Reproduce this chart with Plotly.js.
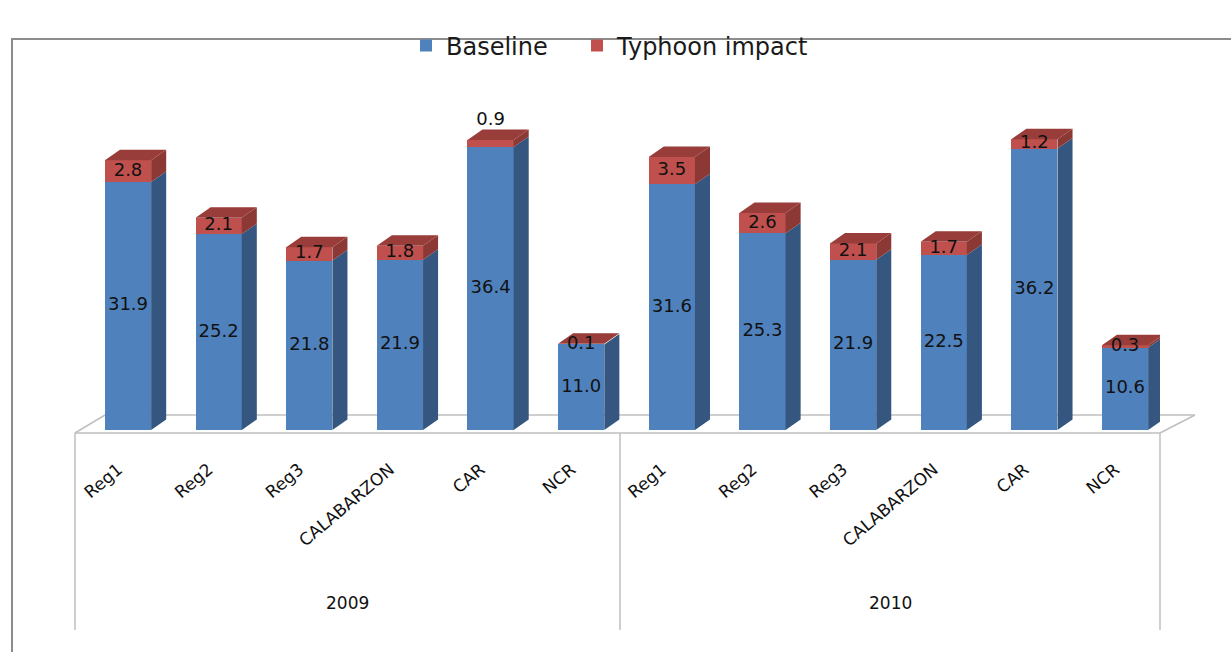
<!DOCTYPE html>
<html>
<head>
<meta charset="utf-8">
<script src="https://cdn.plot.ly/plotly-3.0.1.min.js"></script>
<style>html,body{margin:0;padding:0;background:#fff;}#chart{width:1231px;height:652px;}</style>
</head>
<body>
<div id="chart"></div>
<script>
// ---- data ----
const categories = ['Reg1', 'Reg2', 'Reg3', 'CALABARZON', 'CAR', 'NCR'];
const years = ['2009', '2010'];
const baseline2009 = [31.9, 25.2, 21.8, 21.9, 36.4, 11.0];
const typhoon2009 = [2.8, 2.1, 1.7, 1.8, 0.9, 0.1];
const baseline2010 = [31.6, 25.3, 21.9, 22.5, 36.2, 10.6];
const typhoon2010 = [3.5, 2.6, 2.1, 1.7, 1.2, 0.3];

// ---- style ----
const redLabelAbove = [false, false, false, false, true, false, false, false, false, false, false, false];
const BLUE = '#4F81BD', BLUE_SIDE = '#34567F';
const RED = '#C0504D', RED_SIDE = '#8C3835', RED_TOP = '#983D3A';
const FONT = 'DejaVu Sans, Verdana, sans-serif';
const BW = 0.51, DX = 0.166, DY = 1.35, TICK_SHIFT = -0.11;

const baseline = baseline2009.concat(baseline2010);
const typhoon = typhoon2009.concat(typhoon2010);
const labels = categories.concat(categories);
const xs = labels.map((_, i) => i);

// 3D faces computed from the data values
const blueSideX = [], blueSideY = [], redSideX = [], redSideY = [], redTopX = [], redTopY = [];
xs.forEach((x, i) => {
  const xl = x - BW / 2, xr = x + BW / 2;
  const b = baseline[i], t = baseline[i] + typhoon[i];
  blueSideX.push(xr, xr + DX, xr + DX, xr, xr, null);
  blueSideY.push(0, DY, b + DY, b, 0, null);
  redSideX.push(xr, xr + DX, xr + DX, xr, xr, null);
  redSideY.push(b, b + DY, t + DY, t, b, null);
  redTopX.push(xl, xl + DX, xr + DX, xr, xl, null);
  redTopY.push(t, t + DY, t + DY, t, t, null);
});

const traces = [
  {type: 'bar', name: 'Baseline', x: xs, y: baseline, width: BW, legend: 'legend',
   marker: {color: BLUE, line: {width: 0}}, hoverinfo: 'skip'},
  {type: 'bar', name: 'Typhoon impact', x: xs, y: typhoon, width: BW, legend: 'legend2',
   marker: {color: RED, line: {width: 0}}, hoverinfo: 'skip'},
  {type: 'scatter', mode: 'lines', x: blueSideX, y: blueSideY, fill: 'toself',
   fillcolor: BLUE_SIDE, line: {width: 0, color: BLUE_SIDE}, showlegend: false, hoverinfo: 'skip'},
  {type: 'scatter', mode: 'lines', x: redSideX, y: redSideY, fill: 'toself',
   fillcolor: RED_SIDE, line: {width: 0, color: RED_SIDE}, showlegend: false, hoverinfo: 'skip'},
  {type: 'scatter', mode: 'lines', x: redTopX, y: redTopY, fill: 'toself',
   fillcolor: RED_TOP, line: {width: 0, color: RED_TOP}, showlegend: false, hoverinfo: 'skip'},
  {type: 'scatter', mode: 'text', x: xs, y: baseline.map(v => v / 2),
   text: baseline.map(v => v.toFixed(1)), textposition: 'middle center',
   textfont: {family: FONT, size: 18, color: '#111'}, cliponaxis: false,
   showlegend: false, hoverinfo: 'skip'},
  {type: 'scatter', mode: 'text', x: xs,
   y: xs.map(i => redLabelAbove[i] ? baseline[i] + typhoon[i] + DY : baseline[i] + typhoon[i] / 2),
   text: typhoon.map(v => v.toFixed(1)),
   textposition: xs.map(i => redLabelAbove[i] ? 'top center' : 'middle center'),
   textfont: {family: FONT, size: 18, color: '#111'}, cliponaxis: false,
   showlegend: false, hoverinfo: 'skip'}
];

// pixel -> paper helpers for decoration
const L = 75, R = 1160, B = 430, T = 119;
const px = p => (p - L) / (R - L);
const py = p => (B - p) / (B - T);
const gray = '#BFBFBF';
const line = (x0, y0, x1, y1, c, w) => ({type: 'line', xref: 'paper', yref: 'paper',
  x0: px(x0), y0: py(y0), x1: px(x1), y1: py(y1), line: {color: c, width: w}, layer: 'below'});

const shapes = [
  {type: 'rect', xref: 'paper', yref: 'paper', x0: px(12), y0: py(660), x1: px(1240), y1: py(39),
   line: {color: '#8C8C8C', width: 2}, layer: 'below'},
  line(75, 433, 1160, 433, gray, 1.5),
  line(105, 415, 1195, 415, gray, 1.5),
  line(75, 433, 105, 415, gray, 1.5),
  line(1160, 433, 1195, 415, gray, 1.5),
  line(75, 433, 75, 630, gray, 1.5),
  line(620, 433, 620, 630, gray, 1.5),
  line(1160, 433, 1160, 630, gray, 1.5)
];

const annotations = years.map((yr, k) => ({
  xref: 'paper', yref: 'paper', x: k === 0 ? (px(75) + px(620)) / 2 : (px(620) + px(1160)) / 2,
  y: py(603), text: yr, showarrow: false, xanchor: 'center', yanchor: 'middle',
  font: {family: FONT, size: 17, color: '#111'}
}));

const legendStyle = x => ({orientation: 'h', x: x, xanchor: 'left', y: py(46), yanchor: 'middle',
  bgcolor: 'rgba(0,0,0,0)', font: {family: FONT, size: 24, color: '#1a1a1a'}});

const layout = {
  width: 1231, height: 652,
  margin: {l: L, r: 1231 - R, t: T, b: 652 - B, pad: 0},
  paper_bgcolor: '#fff', plot_bgcolor: 'rgba(0,0,0,0)',
  barmode: 'stack', bargap: 0,
  showlegend: true,
  legend: legendStyle(px(406)),
  legend2: legendStyle(px(577)),
  xaxis: {type: 'linear', range: [-0.585, 11.386], tickvals: xs.map(x => x + TICK_SHIFT), ticktext: labels,
    tickangle: -40, ticks: 'outside', ticklen: 22, tickcolor: 'rgba(0,0,0,0)',
    showgrid: false, zeroline: false, showline: false, fixedrange: true,
    tickfont: {family: FONT, size: 17, color: '#111'}},
  yaxis: {range: [0, 40], visible: false, showgrid: false, zeroline: false, fixedrange: true},
  shapes: shapes,
  annotations: annotations
};

Plotly.newPlot('chart', traces, layout, {displayModeBar: false, staticPlot: true});
</script>
</body>
</html>
